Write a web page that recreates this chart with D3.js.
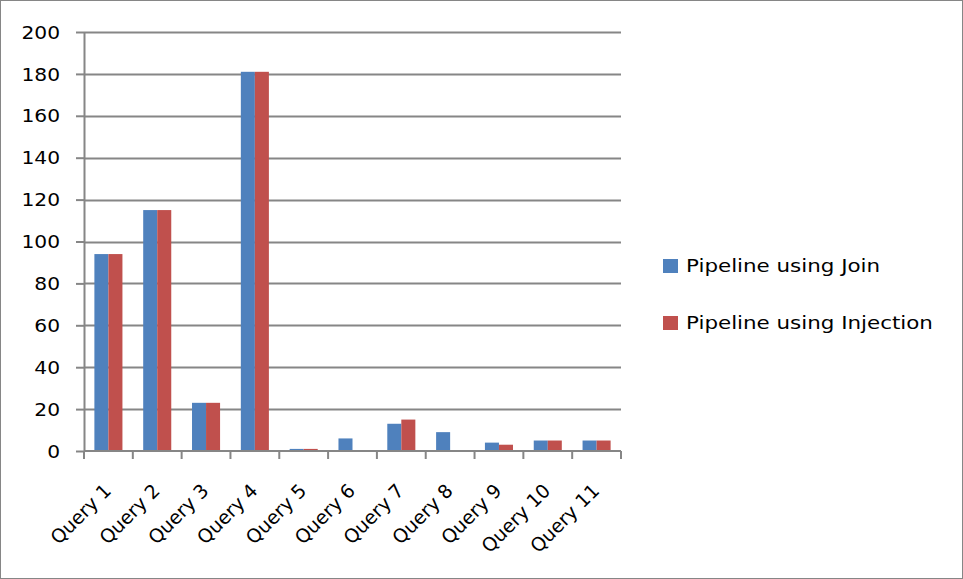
<!DOCTYPE html>
<html>
<head>
<meta charset="utf-8">
<script src="https://cdn.jsdelivr.net/npm/d3@7"></script>
<style>
  html, body { margin: 0; padding: 0; background: #fff; }
  svg text { font-family: "DejaVu Sans", sans-serif; fill: #000; }
</style>
</head>
<body>
<svg id="chart" width="963" height="579"></svg>
<script>
// Run time per query for the two pipeline variants
const categories = ["Query 1", "Query 2", "Query 3", "Query 4", "Query 5", "Query 6",
                    "Query 7", "Query 8", "Query 9", "Query 10", "Query 11"];
const seriesNames = ["Pipeline using Join", "Pipeline using Injection"];
const joinValues = [94, 115, 23, 181, 1, 6, 13, 9, 4, 5, 5];
const injectionValues = [94, 115, 23, 181, 1, 0, 15, 0, 3, 5, 5];
const yTicks = [0, 20, 40, 60, 80, 100, 120, 140, 160, 180, 200];
const colors = ["#4F81BD", "#C0504D"];

const svg = d3.select("#chart");
const W = 963, H = 579;
const stretch = 1.19; // text is drawn slightly wide

// chart frame
svg.append("rect")
  .attr("x", 0.5).attr("y", 0.5)
  .attr("width", W - 1).attr("height", H - 1)
  .attr("fill", "#fff").attr("stroke", "#868686").attr("stroke-width", 1);

const plot = { left: 84, right: 621, top: 32, bottom: 451 };

const x = d3.scaleBand().domain(categories).range([plot.left, plot.right]).paddingInner(0).paddingOuter(0);
const xInner = d3.scaleBand().domain([0, 1]).range([0, x.bandwidth()]).paddingInner(0).paddingOuter(0.74);
const y = d3.scaleLinear().domain([0, 200]).range([plot.bottom, plot.top]);

// horizontal gridlines
svg.append("g")
  .selectAll("line")
  .data(yTicks.filter(t => t > 0))
  .join("line")
  .attr("x1", plot.left).attr("x2", plot.right)
  .attr("y1", d => Math.round(y(d)) + 0.5).attr("y2", d => Math.round(y(d)) + 0.5)
  .attr("stroke", "#868686").attr("stroke-width", 2);

// bars
const table = categories.map((c, i) => ({ cat: c, values: [joinValues[i], injectionValues[i]] }));
const groups = svg.append("g").selectAll("g")
  .data(table)
  .join("g")
  .attr("transform", d => `translate(${x(d.cat)},0)`);

groups.selectAll("rect")
  .data(d => d.values.map((v, k) => ({ v, k })))
  .join("rect")
  .attr("x", d => xInner(d.k))
  .attr("width", xInner.bandwidth())
  .attr("y", d => y(d.v))
  .attr("height", d => y(0) - y(d.v))
  .attr("fill", d => colors[d.k]);

// y axis
const yAxis = d3.axisLeft(y).tickValues(yTicks).tickSize(8).tickPadding(6).tickSizeOuter(0);
const gy = svg.append("g").attr("transform", `translate(${plot.left},0)`).call(yAxis);
gy.select(".domain").attr("stroke", "#868686").attr("stroke-width", 2);
gy.selectAll(".tick line").attr("stroke", "#868686").attr("stroke-width", 2);
gy.selectAll(".tick text")
  .attr("x", 0)
  .attr("transform", `translate(-24,0) scale(${stretch},1)`)
  .attr("font-size", 17).attr("dy", "0.36em")
  .style("font-family", '"DejaVu Sans", sans-serif');

// x axis
const boundaries = categories.map(c => x(c)).concat([plot.right]);
const gx = svg.append("g");
gx.append("line")
  .attr("x1", plot.left).attr("x2", plot.right)
  .attr("y1", plot.bottom).attr("y2", plot.bottom)
  .attr("stroke", "#868686").attr("stroke-width", 2);
gx.selectAll("line.tk")
  .data(boundaries)
  .join("line").attr("class", "tk")
  .attr("x1", d => d).attr("x2", d => d)
  .attr("y1", plot.bottom).attr("y2", plot.bottom + 8)
  .attr("stroke", "#868686").attr("stroke-width", 2);
gx.selectAll("text")
  .data(categories)
  .join("text")
  .attr("text-anchor", "end")
  .attr("font-size", 19)
  .attr("transform", d => `translate(${x(d) + x.bandwidth() / 2 - 1},${plot.bottom + 36}) rotate(-45)`)
  .attr("dy", "0.36em")
  .text(d => d);

// legend
const legend = svg.append("g").selectAll("g")
  .data(seriesNames)
  .join("g")
  .attr("transform", (d, i) => `translate(663,${259 + i * 57})`);
legend.append("rect").attr("width", 15).attr("height", 14).attr("fill", (d, i) => colors[i]);
legend.append("text")
  .attr("transform", `translate(23,7) scale(${stretch},1)`)
  .attr("dy", "0.36em")
  .attr("font-size", 18).text(d => d);
</script>
</body>
</html>
